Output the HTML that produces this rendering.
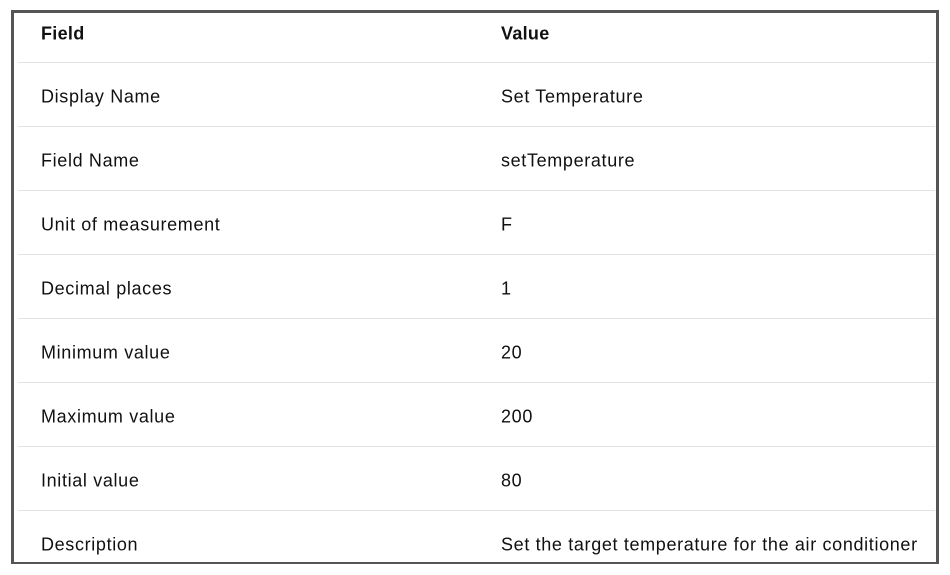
<!DOCTYPE html>
<html><head><meta charset="utf-8"><style>
body{margin:0;width:950px;height:575px;background:#fff;font-family:"Liberation Sans",sans-serif;position:relative;overflow:hidden}
#frame{position:absolute;left:11px;top:10px;width:922px;height:549px;border:3px solid #555;border-bottom-width:2px}
.row{position:absolute;left:18px;width:917px;height:64px;font-size:18px;letter-spacing:0.65px;color:#111}
.row .c{position:absolute;top:calc(50% + 2px);transform:translateY(-50%);white-space:nowrap}
.hdr .c{top:calc(50% - 2px)}
.c1{left:23px}.c2{left:483px}
.sep{position:absolute;left:18px;width:917px;height:1px;background:#e3e3e3}
.hdr{font-weight:bold;letter-spacing:0.3px}
</style></head><body>
<div id="frame"></div>
<div id="t">
<div class="row hdr" style="top:10px;height:52px"><span class="c c1">Field</span><span class="c c2">Value</span></div>
<div class="sep" style="top:62px"></div>
<div class="row" style="top:63px"><span class="c c1">Display Name</span><span class="c c2">Set Temperature</span></div>
<div class="sep" style="top:126px"></div>
<div class="row" style="top:127px"><span class="c c1">Field Name</span><span class="c c2">setTemperature</span></div>
<div class="sep" style="top:190px"></div>
<div class="row" style="top:191px"><span class="c c1">Unit of measurement</span><span class="c c2">F</span></div>
<div class="sep" style="top:254px"></div>
<div class="row" style="top:255px"><span class="c c1">Decimal places</span><span class="c c2">1</span></div>
<div class="sep" style="top:318px"></div>
<div class="row" style="top:319px"><span class="c c1">Minimum value</span><span class="c c2">20</span></div>
<div class="sep" style="top:382px"></div>
<div class="row" style="top:383px"><span class="c c1">Maximum value</span><span class="c c2">200</span></div>
<div class="sep" style="top:446px"></div>
<div class="row" style="top:447px"><span class="c c1">Initial value</span><span class="c c2">80</span></div>
<div class="sep" style="top:510px"></div>
<div class="row" style="top:511px"><span class="c c1">Description</span><span class="c c2">Set the target temperature for the air conditioner</span></div>
</div>
</body></html>
